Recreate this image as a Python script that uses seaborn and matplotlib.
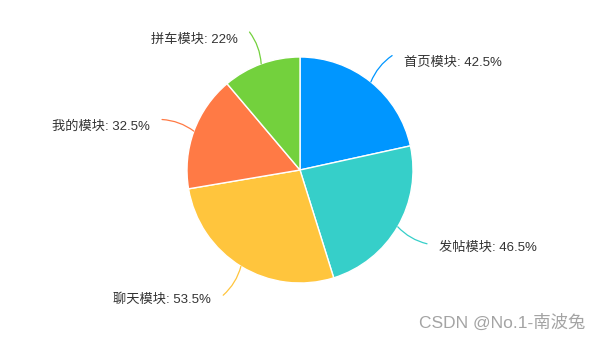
import numpy as np
import matplotlib
matplotlib.use("Agg")
import matplotlib.pyplot as plt
import seaborn as sns

# Data
categories = ["首页模块", "发帖模块", "聊天模块", "我的模块", "拼车模块"]
values = [42.5, 46.5, 53.5, 32.5, 22]
colors = ["#0096FF", "#36CFC9", "#FFC53D", "#FF7A45", "#73D13D"]
watermark = "CSDN @No.1-南波兔"

sns.set_theme(style="white")
plt.rcParams["font.family"] = ["Liberation Sans", "Noto Sans CJK SC", "DejaVu Sans"]

W, H, DPI = 600, 340, 100
R_PX = 113.0
CX, CY = 300.0, 170.0

fig = plt.figure(figsize=(W / DPI, H / DPI), dpi=DPI)
ax = fig.add_axes([0, 0, 1, 1])

palette = sns.color_palette(colors)
wedges, _ = ax.pie(values, colors=palette, startangle=90, counterclock=False,
                   radius=1.0, center=(0, 0), frame=True,
                   wedgeprops=dict(edgecolor="white", linewidth=1.0))
ax.set_xlim(-CX / R_PX, (W - CX) / R_PX)
ax.set_ylim(-(H - CY) / R_PX, CY / R_PX)
ax.axis("off")

for w, name, val, col in zip(wedges, categories, values, colors):
    mid = np.deg2rad((w.theta1 + w.theta2) / 2.0)
    x0, y0 = np.cos(mid), np.sin(mid)
    x1, y1 = 1.3 * np.cos(mid), 1.3 * np.sin(mid)
    right = x0 >= 0
    rad = 0.15 if right else -0.15
    if y0 < 0:
        rad = -rad
    ax.annotate("", xy=(x0, y0), xytext=(x1, y1),
                arrowprops=dict(arrowstyle="-", color=col, lw=0.9,
                                shrinkA=0, shrinkB=0,
                                connectionstyle=f"arc3,rad={rad}"))
    tx = x1 + (0.105 if right else -0.105)
    ty = y1 - (0.065 if y0 > 0 else 0.035)
    label = f"{name}: {val:g}%"
    ax.text(tx, ty, label, ha="left" if right else "right", va="center",
            fontsize=9.5, color="#333333")

fig.text(585 / W, 1 - 322 / H, watermark, ha="right", va="center",
         fontsize=12.5, color="#9a9a9a", alpha=0.9)

fig.savefig("out.png", dpi=DPI, facecolor="white")
